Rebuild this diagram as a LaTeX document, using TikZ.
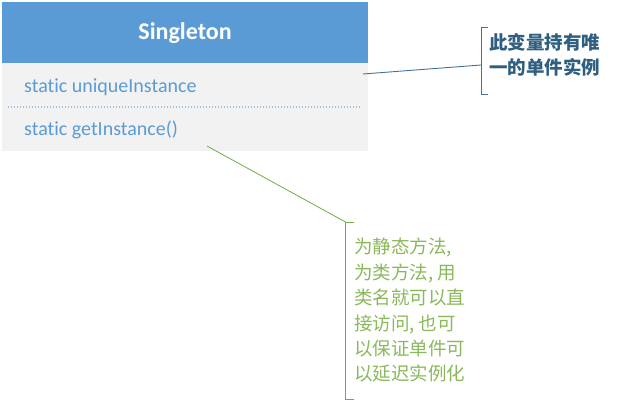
\documentclass[tikz,border=0pt]{standalone}
\usepackage{fontspec}
\usetikzlibrary{calc}
\setmainfont{Carlito}[Ligatures=NoCommon]
\newfontfamily\cjk{Noto Sans CJK SC}
\definecolor{hdrblue}{HTML}{5B9BD5}
\definecolor{bodygray}{HTML}{F2F2F2}
\definecolor{sepblue}{HTML}{9DC3E6}
\definecolor{calloutblue}{HTML}{41719C}
\definecolor{noteblue}{HTML}{2E5E80}
\definecolor{calloutgreen}{HTML}{70AD47}
\definecolor{notegreen}{HTML}{8AB85A}
\tikzset{
  member/.style={anchor=west, text=hdrblue, font=\fontsize{20}{24}\selectfont, inner sep=0pt},
  notetext/.style={anchor=north west, align=left, inner sep=0pt},
  bracket/.style={line width=0.9pt},
}
\begin{document}
\begin{tikzpicture}[x=1pt,y=-1pt]
\useasboundingbox (0,0) rectangle (620,401);
% class box
\fill[hdrblue] (2,2) rectangle (368,63);
\fill[bodygray] (2,63) rectangle (368,151);
\node[text=white, font=\fontsize{24}{28}\selectfont\bfseries] (title) at (185,33) {Singleton};
\node[member] (attr) at (24,87) {static uniqueInstance};
\draw[sepblue, dotted, line width=1pt] (8,107) -- (362,107);
\node[member] (meth) at (24,130) {static getInstance()};
\coordinate (attrend) at (363,74);
\coordinate (methend) at (207,146);
% callout 1
\coordinate (b1top) at (481,27);
\coordinate (b1bot) at (481,94);
\coordinate (b1mid) at (481,65);
\draw[calloutblue, bracket] ($(b1top)+(7,0)$) -- (b1top) -- (b1bot) -- ($(b1bot)+(7,0)$);
\draw[calloutblue, line width=0.9pt] (attrend) -- (b1mid);
\node[notetext, text=noteblue, font=\cjk\bfseries\fontsize{18.5}{25.5}\selectfont] (note1) at (489,33) {此变量持有唯\\一的单件实例};
% callout 2
\coordinate (b2top) at (345.5,222);
\coordinate (b2bot) at (345.5,399);
\draw[calloutgreen, bracket] ($(b2top)+(8,0)$) -- (b2top) -- (b2bot) -- ($(b2bot)+(8,0)$);
\draw[calloutgreen, line width=0.8pt] (methend) -- (b2top);
\node[notetext, text=notegreen, font=\cjk\fontsize{18.5}{25.4}\selectfont] (note2) at (354,238) {为静态方法,\\为类方法, 用\\类名就可以直\\接访问, 也可\\以保证单件可\\以延迟实例化};
\end{tikzpicture}
\end{document}
